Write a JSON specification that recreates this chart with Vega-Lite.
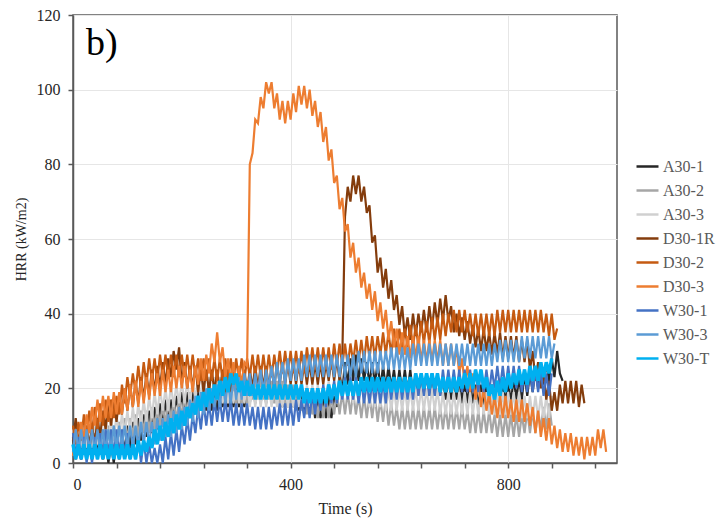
{
"$schema":"https://vega.github.io/schema/vega-lite/v6.json",
"width":544,"height":448,
"autosize":{"type":"none"},
"padding":{"left":73,"top":15,"right":100,"bottom":60},
"background":"white",
"config":{
 "font":"Liberation Serif",
 "view":{"stroke":"#595959","strokeWidth":1.5},
 "axis":{"labelFont":"Liberation Serif","labelFontSize":16,"labelColor":"#262626","titleFont":"Liberation Serif","titleFontWeight":"normal","titleColor":"#262626","domainColor":"#595959","domainWidth":1.5,"gridColor":"#e6e6e6","gridWidth":1,"ticks":true,"tickSize":5,"tickColor":"#595959","tickWidth":1.5,"labelOverlap":false},
 "legend":{"labelFont":"Liberation Serif","labelFontSize":16,"labelColor":"#595959","symbolType":"stroke","symbolSize":484,"symbolStrokeWidth":2.5,"rowPadding":3,"labelOffset":3,"padding":0}
},
"datasets":{"hrr":[
{"t":0,"a":7,"b":2,"c":9,"d":6,"e":10,"f":2,"g":8,"h":3,"i":5},
{"t":5,"a":1,"b":8,"c":3,"d":12,"e":5,"f":9,"g":2,"h":9,"i":1},
{"t":10,"a":7,"b":2,"c":10,"d":5,"e":11,"f":4,"g":7,"h":3,"i":5},
{"t":15,"a":1,"b":8,"c":4,"d":10,"e":6,"f":11,"g":1,"h":9,"i":1},
{"t":20,"a":8,"b":3,"c":10,"d":4,"e":13,"f":6,"g":7,"h":3,"i":5},
{"t":25,"a":2,"b":9,"c":4,"d":10,"e":7,"f":13,"g":0,"h":9,"i":1},
{"t":30,"a":8,"b":3,"c":10,"d":3,"e":14,"f":8,"g":6,"h":3,"i":5},
{"t":35,"a":2,"b":9,"c":4,"d":10,"e":8,"f":15,"g":0,"h":9,"i":1},
{"t":40,"a":8,"b":3,"c":11,"d":5,"e":15,"f":10,"g":7,"h":3,"i":5},
{"t":45,"a":2,"b":9,"c":5,"d":12,"e":9,"f":17,"g":1,"h":9,"i":1},
{"t":50,"a":8,"b":3,"c":11,"d":7,"e":16,"f":11,"g":8,"h":3,"i":5},
{"t":55,"a":1,"b":9,"c":5,"d":14,"e":10,"f":18,"g":2,"h":9,"i":1},
{"t":60,"a":7,"b":4,"c":12,"d":9,"e":17,"f":12,"g":9,"h":3,"i":5},
{"t":65,"a":0,"b":10,"c":6,"d":16,"e":11,"f":18,"g":2,"h":9,"i":1},
{"t":70,"a":5,"b":4,"c":12,"d":10,"e":17,"f":12,"g":9,"h":3,"i":5},
{"t":75,"a":0,"b":10,"c":6,"d":17,"e":12,"f":19,"g":2,"h":10,"i":1},
{"t":80,"a":7,"b":5,"c":13,"d":11,"e":18,"f":13,"g":9,"h":4,"i":5},
{"t":85,"a":1,"b":11,"c":7,"d":18,"e":13,"f":19,"g":2,"h":10,"i":1},
{"t":90,"a":8,"b":5,"c":13,"d":13,"e":21,"f":13,"g":9,"h":4,"i":5},
{"t":95,"a":3,"b":12,"c":8,"d":20,"e":16,"f":20,"g":2,"h":10,"i":1},
{"t":100,"a":10,"b":6,"c":14,"d":14,"e":23,"f":14,"g":8,"h":4,"i":5},
{"t":105,"a":4,"b":12,"c":8,"d":21,"e":18,"f":21,"g":1,"h":10,"i":1},
{"t":110,"a":11,"b":7,"c":15,"d":15,"e":24,"f":15,"g":7,"h":4,"i":5},
{"t":115,"a":5,"b":13,"c":9,"d":22,"e":19,"f":22,"g":1,"h":10,"i":1},
{"t":120,"a":12,"b":7,"c":16,"d":16,"e":26,"f":15,"g":7,"h":4,"i":6},
{"t":125,"a":6,"b":14,"c":10,"d":23,"e":20,"f":22,"g":0,"h":11,"i":2},
{"t":130,"a":13,"b":8,"c":17,"d":17,"e":27,"f":16,"g":6,"h":5,"i":6},
{"t":135,"a":7,"b":14,"c":11,"d":24,"e":21,"f":23,"g":0,"h":11,"i":3},
{"t":140,"a":14,"b":8,"c":18,"d":18,"e":28,"f":17,"g":5,"h":5,"i":7},
{"t":145,"a":8,"b":15,"c":12,"d":25,"e":22,"f":24,"g":0,"h":11,"i":4},
{"t":150,"a":15,"b":9,"c":19,"d":19,"e":28,"f":18,"g":4,"h":5,"i":9},
{"t":155,"a":9,"b":15,"c":13,"d":26,"e":22,"f":24,"g":0,"h":12,"i":5},
{"t":160,"a":16,"b":10,"c":20,"d":20,"e":29,"f":18,"g":5,"h":6,"i":10},
{"t":165,"a":10,"b":16,"c":14,"d":27,"e":23,"f":25,"g":0,"h":12,"i":6},
{"t":170,"a":17,"b":10,"c":20,"d":21,"e":29,"f":19,"g":7,"h":7,"i":11},
{"t":175,"a":11,"b":17,"c":14,"d":28,"e":23,"f":25,"g":1,"h":13,"i":7},
{"t":180,"a":17,"b":11,"c":21,"d":23,"e":29,"f":19,"g":8,"h":7,"i":12},
{"t":185,"a":12,"b":17,"c":15,"d":30,"e":23,"f":26,"g":2,"h":14,"i":8},
{"t":190,"a":18,"b":11,"c":21,"d":25,"e":29,"f":20,"g":9,"h":8,"i":13},
{"t":195,"a":13,"b":18,"c":16,"d":31,"e":23,"f":26,"g":3,"h":15,"i":9},
{"t":200,"a":19,"b":12,"c":22,"d":21,"e":29,"f":20,"g":10,"h":9,"i":14},
{"t":205,"a":13,"b":18,"c":16,"d":27,"e":23,"f":26,"g":5,"h":15,"i":10},
{"t":210,"a":19,"b":12,"c":22,"d":20,"e":29,"f":20,"g":12,"h":10,"i":15},
{"t":215,"a":13,"b":19,"c":16,"d":26,"e":23,"f":25,"g":6,"h":17,"i":12},
{"t":220,"a":19,"b":13,"c":22,"d":20,"e":29,"f":19,"g":13,"h":11,"i":16},
{"t":225,"a":14,"b":19,"c":17,"d":26,"e":23,"f":26,"g":8,"h":18,"i":13},
{"t":230,"a":20,"b":13,"c":23,"d":19,"e":28,"f":21,"g":15,"h":12,"i":18},
{"t":235,"a":14,"b":19,"c":17,"d":25,"e":22,"f":28,"g":9,"h":19,"i":14},
{"t":240,"a":20,"b":14,"c":23,"d":19,"e":28,"f":22,"g":16,"h":13,"i":19},
{"t":245,"a":14,"b":20,"c":17,"d":25,"e":22,"f":29,"g":10,"h":20,"i":15},
{"t":250,"a":20,"b":14,"c":23,"d":19,"e":28,"f":24,"g":16,"h":14,"i":20},
{"t":255,"a":14,"b":20,"c":17,"d":25,"e":22,"f":32,"g":10,"h":20,"i":16},
{"t":260,"a":20,"b":14,"c":23,"d":19,"e":28,"f":27,"g":17,"h":15,"i":21},
{"t":265,"a":14,"b":21,"c":17,"d":25,"e":22,"f":35,"g":11,"h":21,"i":17},
{"t":270,"a":20,"b":15,"c":23,"d":19,"e":28,"f":27,"g":17,"h":15,"i":22},
{"t":275,"a":15,"b":21,"c":16,"d":25,"e":22,"f":31,"g":11,"h":22,"i":18},
{"t":280,"a":21,"b":15,"c":22,"d":19,"e":28,"f":23,"g":17,"h":16,"i":23},
{"t":285,"a":15,"b":21,"c":16,"d":25,"e":22,"f":28,"g":11,"h":22,"i":19},
{"t":290,"a":21,"b":16,"c":22,"d":19,"e":28,"f":22,"g":17,"h":16,"i":24},
{"t":295,"a":15,"b":22,"c":16,"d":25,"e":22,"f":27,"g":10,"h":23,"i":21},
{"t":300,"a":21,"b":16,"c":22,"d":19,"e":28,"f":20,"g":16,"h":17,"i":24},
{"t":305,"a":15,"b":22,"c":16,"d":25,"e":22,"f":26,"g":10,"h":23,"i":19},
{"t":310,"a":21,"b":16,"c":22,"d":19,"e":28,"f":21,"g":16,"h":17,"i":22},
{"t":315,"a":15,"b":22,"c":16,"d":25,"e":22,"f":27,"g":10,"h":24,"i":18},
{"t":320,"a":21,"b":16,"c":22,"d":19,"e":28,"f":26,"g":16,"h":18,"i":22},
{"t":325,"a":16,"b":22,"c":15,"d":25,"e":23,"f":80,"g":10,"h":24,"i":18},
{"t":330,"a":22,"b":17,"c":21,"d":20,"e":29,"f":83,"g":15,"h":18,"i":21},
{"t":335,"a":16,"b":23,"c":15,"d":26,"e":23,"f":92,"g":9,"h":24,"i":17},
{"t":340,"a":22,"b":17,"c":21,"d":20,"e":29,"f":91,"g":15,"h":19,"i":21},
{"t":345,"a":16,"b":23,"c":15,"d":26,"e":23,"f":98,"g":9,"h":25,"i":17},
{"t":350,"a":22,"b":17,"c":21,"d":20,"e":29,"f":95,"g":15,"h":19,"i":21},
{"t":355,"a":16,"b":23,"c":15,"d":26,"e":23,"f":102,"g":9,"h":25,"i":17},
{"t":360,"a":22,"b":17,"c":21,"d":20,"e":29,"f":99,"g":15,"h":20,"i":21},
{"t":365,"a":16,"b":22,"c":15,"d":26,"e":23,"f":102,"g":9,"h":26,"i":17},
{"t":370,"a":22,"b":16,"c":21,"d":20,"e":29,"f":95,"g":15,"h":20,"i":21},
{"t":375,"a":16,"b":22,"c":15,"d":27,"e":24,"f":99,"g":10,"h":27,"i":17},
{"t":380,"a":21,"b":16,"c":21,"d":21,"e":30,"f":92,"g":16,"h":21,"i":21},
{"t":385,"a":15,"b":22,"c":15,"d":27,"e":24,"f":97,"g":10,"h":27,"i":17},
{"t":390,"a":21,"b":15,"c":21,"d":21,"e":30,"f":91,"g":16,"h":21,"i":21},
{"t":395,"a":15,"b":21,"c":15,"d":27,"e":24,"f":97,"g":10,"h":28,"i":17},
{"t":400,"a":21,"b":15,"c":21,"d":21,"e":30,"f":92,"g":16,"h":22,"i":21},
{"t":405,"a":15,"b":21,"c":15,"d":27,"e":24,"f":99,"g":10,"h":28,"i":17},
{"t":410,"a":20,"b":14,"c":21,"d":21,"e":30,"f":94,"g":17,"h":22,"i":21},
{"t":415,"a":14,"b":20,"c":15,"d":27,"e":24,"f":101,"g":11,"h":28,"i":17},
{"t":420,"a":20,"b":14,"c":21,"d":21,"e":30,"f":96,"g":17,"h":22,"i":21},
{"t":425,"a":13,"b":19,"c":15,"d":27,"e":24,"f":101,"g":12,"h":29,"i":16},
{"t":430,"a":19,"b":13,"c":21,"d":21,"e":31,"f":95,"g":18,"h":23,"i":20},
{"t":435,"a":13,"b":19,"c":15,"d":27,"e":25,"f":100,"g":12,"h":29,"i":16},
{"t":440,"a":19,"b":13,"c":21,"d":21,"e":31,"f":93,"g":19,"h":23,"i":20},
{"t":445,"a":12,"b":18,"c":15,"d":27,"e":25,"f":97,"g":13,"h":29,"i":16},
{"t":450,"a":18,"b":12,"c":21,"d":21,"e":31,"f":90,"g":20,"h":23,"i":20},
{"t":455,"a":12,"b":18,"c":15,"d":27,"e":25,"f":94,"g":14,"h":29,"i":16},
{"t":460,"a":18,"b":12,"c":21,"d":21,"e":31,"f":86,"g":21,"h":23,"i":20},
{"t":465,"a":12,"b":18,"c":16,"d":27,"e":25,"f":90,"g":15,"h":29,"i":16},
{"t":470,"a":18,"b":12,"c":22,"d":22,"e":31,"f":81,"g":21,"h":23,"i":21},
{"t":475,"a":12,"b":18,"c":16,"d":28,"e":25,"f":84,"g":16,"h":29,"i":17},
{"t":480,"a":18,"b":13,"c":22,"d":22,"e":32,"f":75,"g":22,"h":23,"i":21},
{"t":485,"a":15,"b":19,"c":16,"d":28,"e":26,"f":77,"g":16,"h":29,"i":17},
{"t":490,"a":24,"b":13,"c":23,"d":22,"e":32,"f":68,"g":22,"h":23,"i":22},
{"t":495,"a":19,"b":19,"c":17,"d":28,"e":26,"f":71,"g":17,"h":29,"i":18},
{"t":500,"a":27,"b":13,"c":23,"d":66,"e":32,"f":62,"g":23,"h":23,"i":22},
{"t":505,"a":21,"b":19,"c":17,"d":74,"e":26,"f":64,"g":17,"h":29,"i":18},
{"t":510,"a":28,"b":13,"c":23,"d":70,"e":32,"f":55,"g":23,"h":23,"i":22},
{"t":515,"a":22,"b":19,"c":16,"d":77,"e":27,"f":59,"g":17,"h":29,"i":18},
{"t":520,"a":29,"b":13,"c":22,"d":72,"e":33,"f":51,"g":23,"h":23,"i":22},
{"t":525,"a":22,"b":18,"c":16,"d":77,"e":27,"f":55,"g":16,"h":30,"i":18},
{"t":530,"a":28,"b":12,"c":22,"d":70,"e":33,"f":47,"g":22,"h":24,"i":23},
{"t":535,"a":22,"b":18,"c":16,"d":74,"e":27,"f":51,"g":16,"h":30,"i":19},
{"t":540,"a":27,"b":12,"c":21,"d":67,"e":34,"f":44,"g":22,"h":24,"i":23},
{"t":545,"a":21,"b":18,"c":15,"d":69,"e":28,"f":48,"g":16,"h":30,"i":19},
{"t":550,"a":27,"b":12,"c":21,"d":59,"e":34,"f":41,"g":22,"h":24,"i":23},
{"t":555,"a":21,"b":18,"c":15,"d":61,"e":28,"f":46,"g":16,"h":30,"i":19},
{"t":560,"a":27,"b":11,"c":21,"d":51,"e":34,"f":38,"g":22,"h":24,"i":23},
{"t":565,"a":20,"b":17,"c":15,"d":55,"e":29,"f":43,"g":16,"h":30,"i":19},
{"t":570,"a":26,"b":11,"c":21,"d":47,"e":35,"f":36,"g":22,"h":25,"i":23},
{"t":575,"a":20,"b":17,"c":14,"d":52,"e":29,"f":41,"g":16,"h":30,"i":19},
{"t":580,"a":26,"b":10,"c":20,"d":44,"e":35,"f":33,"g":23,"h":25,"i":23},
{"t":585,"a":20,"b":16,"c":14,"d":49,"e":29,"f":38,"g":17,"h":31,"i":19},
{"t":590,"a":25,"b":10,"c":20,"d":41,"e":36,"f":31,"g":23,"h":25,"i":23},
{"t":595,"a":19,"b":15,"c":14,"d":45,"e":30,"f":36,"g":17,"h":31,"i":19},
{"t":600,"a":25,"b":9,"c":20,"d":37,"e":36,"f":29,"g":23,"h":25,"i":23},
{"t":605,"a":19,"b":15,"c":14,"d":42,"e":30,"f":35,"g":17,"h":31,"i":19},
{"t":610,"a":25,"b":9,"c":20,"d":34,"e":36,"f":29,"g":23,"h":25,"i":23},
{"t":615,"a":19,"b":15,"c":14,"d":39,"e":31,"f":34,"g":17,"h":31,"i":19},
{"t":620,"a":25,"b":9,"c":20,"d":33,"e":37,"f":28,"g":23,"h":25,"i":23},
{"t":625,"a":18,"b":15,"c":14,"d":40,"e":31,"f":34,"g":17,"h":32,"i":19},
{"t":630,"a":24,"b":9,"c":20,"d":34,"e":37,"f":28,"g":24,"h":26,"i":24},
{"t":635,"a":18,"b":15,"c":14,"d":40,"e":31,"f":34,"g":18,"h":32,"i":20},
{"t":640,"a":24,"b":9,"c":20,"d":35,"e":38,"f":27,"g":24,"h":26,"i":24},
{"t":645,"a":18,"b":15,"c":14,"d":41,"e":32,"f":33,"g":18,"h":32,"i":20},
{"t":650,"a":24,"b":9,"c":20,"d":35,"e":38,"f":27,"g":24,"h":26,"i":24},
{"t":655,"a":18,"b":15,"c":14,"d":42,"e":32,"f":33,"g":18,"h":32,"i":20},
{"t":660,"a":24,"b":9,"c":20,"d":36,"e":39,"f":27,"g":24,"h":26,"i":24},
{"t":665,"a":18,"b":15,"c":14,"d":43,"e":33,"f":33,"g":18,"h":32,"i":20},
{"t":670,"a":24,"b":9,"c":20,"d":37,"e":39,"f":27,"g":24,"h":26,"i":24},
{"t":675,"a":18,"b":15,"c":13,"d":44,"e":33,"f":33,"g":18,"h":32,"i":19},
{"t":680,"a":23,"b":9,"c":19,"d":38,"e":40,"f":26,"g":25,"h":26,"i":23},
{"t":685,"a":17,"b":15,"c":13,"d":45,"e":34,"f":32,"g":19,"h":32,"i":19},
{"t":690,"a":23,"b":9,"c":19,"d":38,"e":40,"f":26,"g":25,"h":26,"i":23},
{"t":695,"a":17,"b":15,"c":13,"d":42,"e":35,"f":32,"g":19,"h":32,"i":19},
{"t":700,"a":23,"b":9,"c":19,"d":35,"e":41,"f":26,"g":25,"h":26,"i":23},
{"t":705,"a":17,"b":15,"c":13,"d":40,"e":35,"f":31,"g":19,"h":32,"i":19},
{"t":710,"a":23,"b":9,"c":19,"d":34,"e":41,"f":24,"g":25,"h":26,"i":23},
{"t":715,"a":16,"b":15,"c":13,"d":39,"e":35,"f":28,"g":19,"h":32,"i":20},
{"t":720,"a":22,"b":9,"c":19,"d":33,"e":41,"f":21,"g":25,"h":26,"i":24},
{"t":725,"a":16,"b":14,"c":13,"d":38,"e":35,"f":26,"g":19,"h":32,"i":20},
{"t":730,"a":22,"b":8,"c":19,"d":32,"e":40,"f":19,"g":25,"h":26,"i":24},
{"t":735,"a":16,"b":14,"c":13,"d":37,"e":34,"f":24,"g":19,"h":32,"i":20},
{"t":740,"a":21,"b":8,"c":19,"d":31,"e":40,"f":17,"g":25,"h":26,"i":25},
{"t":745,"a":15,"b":14,"c":13,"d":36,"e":34,"f":22,"g":19,"h":32,"i":21},
{"t":750,"a":21,"b":8,"c":19,"d":30,"e":40,"f":15,"g":25,"h":26,"i":25},
{"t":755,"a":15,"b":14,"c":13,"d":36,"e":34,"f":20,"g":19,"h":32,"i":20},
{"t":760,"a":21,"b":8,"c":19,"d":30,"e":40,"f":14,"g":25,"h":26,"i":23},
{"t":765,"a":15,"b":14,"c":13,"d":35,"e":34,"f":19,"g":19,"h":32,"i":18},
{"t":770,"a":21,"b":8,"c":19,"d":29,"e":40,"f":13,"g":25,"h":26,"i":21},
{"t":775,"a":15,"b":13,"c":13,"d":35,"e":34,"f":18,"g":20,"h":32,"i":17},
{"t":780,"a":22,"b":7,"c":19,"d":29,"e":41,"f":12,"g":26,"h":27,"i":22},
{"t":785,"a":16,"b":13,"c":13,"d":35,"e":35,"f":18,"g":20,"h":33,"i":18},
{"t":790,"a":22,"b":7,"c":19,"d":28,"e":41,"f":12,"g":26,"h":27,"i":23},
{"t":795,"a":16,"b":13,"c":13,"d":34,"e":35,"f":18,"g":20,"h":33,"i":19},
{"t":800,"a":22,"b":7,"c":19,"d":28,"e":41,"f":12,"g":26,"h":27,"i":24},
{"t":805,"a":16,"b":13,"c":13,"d":34,"e":35,"f":17,"g":20,"h":33,"i":20},
{"t":810,"a":23,"b":7,"c":19,"d":28,"e":41,"f":11,"g":26,"h":27,"i":24},
{"t":815,"a":17,"b":13,"c":13,"d":34,"e":35,"f":17,"g":20,"h":33,"i":21},
{"t":820,"a":23,"b":7,"c":19,"d":27,"e":41,"f":11,"g":26,"h":27,"i":25},
{"t":825,"a":17,"b":13,"c":12,"d":33,"e":35,"f":17,"g":19,"h":34,"i":21},
{"t":830,"a":24,"b":8,"c":18,"d":27,"e":41,"f":11,"g":25,"h":28,"i":25},
{"t":835,"a":18,"b":14,"c":12,"d":33,"e":35,"f":16,"g":19,"h":34,"i":21},
{"t":840,"a":24,"b":8,"c":18,"d":25,"e":41,"f":10,"g":25,"h":28,"i":26},
{"t":845,"a":19,"b":14,"c":12,"d":30,"e":35,"f":15,"g":19,"h":34,"i":22},
{"t":850,"a":25,"b":8,"c":18,"d":22,"e":41,"f":8,"g":25,"h":28,"i":26},
{"t":855,"a":20,"b":14,"c":12,"d":27,"e":35,"f":14,"g":19,"h":34,"i":22},
{"t":860,"a":26,"b":9,"c":18,"d":20,"e":41,"f":7,"g":25,"h":28,"i":27},
{"t":865,"a":21,"b":15,"c":12,"d":24,"e":35,"f":12,"g":18,"h":34,"i":23},
{"t":870,"a":27,"b":9,"c":18,"d":17,"e":40,"f":6,"g":24,"h":28,"i":27},
{"t":875,"a":22,"b":16,"c":12,"d":22,"e":34,"f":12,"g":18,"h":34,"i":24},
{"t":880,"a":28,"b":10,"c":18,"d":14,"e":40,"f":5,"g":24,"h":28,"i":28},
{"t":885,"a":23,"d":19,"e":33,"f":10,"h":32},
{"t":890,"a":30,"d":14,"e":36,"f":4},
{"t":895,"a":24,"d":21,"f":9},
{"t":900,"a":22,"d":16,"f":3},
{"t":905,"d":22,"f":8},
{"t":910,"d":16,"f":3},
{"t":915,"d":22,"f":8},
{"t":920,"d":16,"f":2},
{"t":925,"d":22,"f":7},
{"t":930,"d":15,"f":2},
{"t":935,"d":21,"f":7},
{"t":940,"d":16,"f":1},
{"t":945,"f":7},
{"t":950,"f":2},
{"t":955,"f":7},
{"t":960,"f":2},
{"t":965,"f":9},
{"t":970,"f":4},
{"t":975,"f":9},
{"t":980,"f":3}
],
"names":[{"k":"a","s":"A30-1"},{"k":"b","s":"A30-2"},{"k":"c","s":"A30-3"},{"k":"d","s":"D30-1R"},{"k":"e","s":"D30-2"},{"k":"f","s":"D30-3"},{"k":"g","s":"W30-1"},{"k":"h","s":"W30-3"},{"k":"i","s":"W30-T"}],
"label":[{"t":24,"v":109.3,"txt":"b)"}]
},
"layer":[
 {"data":{"name":"hrr"},
  "transform":[
   {"fold":["a","b","c","d","e","f","g","h"],"as":["k","v"]},
   {"filter":"isValid(datum.v)"},
   {"lookup":"k","from":{"data":{"name":"names"},"key":"k","fields":["s"]}}
  ],
  "mark":{"type":"line","strokeWidth":2.2,"strokeJoin":"miter","strokeMiterLimit":4},
  "encoding":{
   "x":{"field":"t","type":"quantitative","scale":{"domain":[0,1000],"nice":false,"zero":false},
     "axis":{"title":"Time (s)","titleFontSize":16,"titlePadding":8,"format":"d","values":[0,40,80,120,160,200,240,280,320,360,400,440,480,520,560,600,640,680,720,760,800,840,880,920,960,1000],
       "labelExpr":"datum.value % 200 === 0 ? datum.label : ''","labelPadding":8,"labelOverlap":false,"ticks":true,"tickSize":5,"tickColor":"#595959","tickWidth":1.5,
       "gridOpacity":{"condition":{"test":"datum.value % 200 === 0","value":1},"value":0}}},
   "y":{"field":"v","type":"quantitative","scale":{"domain":[0,120],"nice":false},
     "axis":{"title":"HRR (kW/m2)","titleFontSize":14,"titlePadding":8,"format":"d","values":[0,5,10,15,20,25,30,35,40,45,50,55,60,65,70,75,80,85,90,95,100,105,110,115,120],
       "labelExpr":"datum.value % 20 === 0 ? datum.label : ''","labelPadding":8,"labelOverlap":false,"ticks":true,"tickSize":5,"tickColor":"#595959","tickWidth":1.5,
       "gridOpacity":{"condition":{"test":"datum.value % 20 === 0","value":1},"value":0}}},
   "color":{"field":"s","type":"nominal",
     "scale":{"domain":["A30-1","A30-2","A30-3","D30-1R","D30-2","D30-3","W30-1","W30-3","W30-T"],
              "range":["#262626","#a6a6a6","#d0d0d0","#843c0c","#c55a11","#ed7d31","#4472c4","#5b9bd5","#00b0f0"]},
     "legend":{"title":null,"orient":"none","legendX":562,"legendY":139}}
  }},
 {"data":{"name":"hrr"},
  "transform":[
   {"fold":["i"],"as":["k","v"]},
   {"filter":"isValid(datum.v)"},
   {"lookup":"k","from":{"data":{"name":"names"},"key":"k","fields":["s"]}}
  ],
  "mark":{"type":"line","strokeWidth":3.5,"strokeJoin":"miter"},
  "encoding":{
   "x":{"field":"t","type":"quantitative"},
   "y":{"field":"v","type":"quantitative"},
   "color":{"field":"s","type":"nominal"}
  }},
 {"data":{"name":"label"},
  "mark":{"type":"text","font":"Liberation Serif","fontSize":38,"align":"left","baseline":"alphabetic","color":"black"},
  "encoding":{
   "x":{"field":"t","type":"quantitative"},
   "y":{"field":"v","type":"quantitative"},
   "text":{"field":"txt"}
  }}
]
}
